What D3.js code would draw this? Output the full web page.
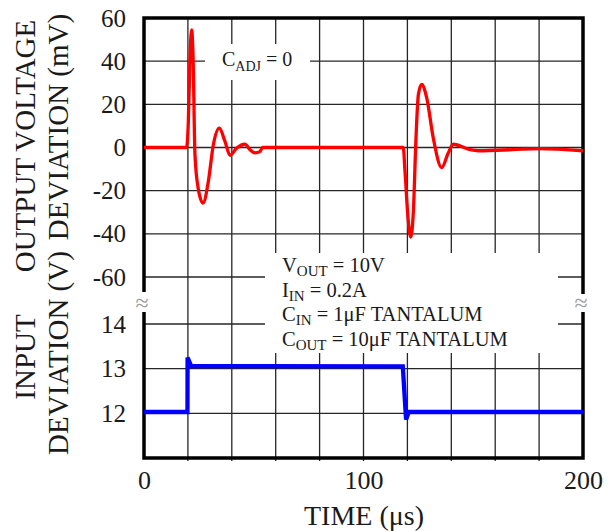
<!DOCTYPE html>
<html>
<head>
<meta charset="utf-8">
<script src="https://cdn.jsdelivr.net/npm/d3@7"></script>
<style>
  body { margin: 0; background: #fff; }
  text { font-family: "Liberation Serif", "Times New Roman", serif; fill: #1a1a1a; }
</style>
</head>
<body>
<svg width="610" height="531"></svg>
<script>
// time axis (us)
var timeTicks = [0, 100, 200];
var timeGrid = [20, 40, 60, 80, 100, 120, 140, 160, 180];

// output voltage deviation (mV), top panel
var outTicks = [60, 40, 20, 0, -20, -40, -60];
var outTime = [0, 19.4, 20.2, 21, 21.7, 22.4, 23.2, 24.7, 26.9, 29.3, 31.6, 34.3, 36.9, 39.2, 42.2, 46, 48.3, 50.6, 52.8, 54,
               118.1, 118.9, 120.4, 121.5, 122.7, 123.9, 125, 126.5, 128.8, 131.8, 135.6, 138.6, 140.9, 148.5, 152.3, 168, 180, 200];
var outMv   = [0, 0, 12, 43, 54.5, 40, -3, -19, -25.8, -15.8, 1.3, 9, 2.8, -3.6, -0.3, 1.5, -1, -2.5, -1.9, 0,
               0, -11, -34, -41.5, -30, 4, 24.5, 29.2, 23, 4.3, -9.3, -2.6, 1.5, -1, -1.5, -1, -0.5, -1.5];

// input voltage (V), bottom panel
var inTicks = [14, 13, 12];
var inTime = [0, 19.8, 19.85, 21.5, 117.9, 119.4, 120.6, 200];
var inV    = [12.03, 12.03, 13.25, 13.06, 13.05, 11.86, 12.03, 12.03];

var svg = d3.select("svg");
var pLeft = 144, pRight = 583, pTop = 18, pBottom = 458;

var x = d3.scaleLinear().domain([0, 200]).range([pLeft, pRight]);
var yOut = d3.scaleLinear().domain([-60, 60]).range([277, pTop]);
var yIn = d3.scaleLinear().domain([11, 14]).range([pBottom, 324]);

//grid lines
var grid = svg.append("g").attr("stroke", "#262626").attr("stroke-width", 1.3);
grid.selectAll("line.v").data(timeGrid).enter().append("line")
    .attr("x1", d => x(d)).attr("x2", d => x(d))
    .attr("y1", pTop).attr("y2", pBottom + 3);
grid.selectAll("line.ho").data(outTicks.filter(d => d < 60)).enter().append("line")
    .attr("x1", pLeft).attr("x2", pRight)
    .attr("y1", d => yOut(d)).attr("y2", d => yOut(d));
grid.selectAll("line.hi").data(inTicks).enter().append("line")
    .attr("x1", pLeft).attr("x2", pRight)
    .attr("y1", d => yIn(d)).attr("y2", d => yIn(d));

// white boxes behind the notes
svg.append("rect").attr("x", 205).attr("y", 44).attr("width", 105).attr("height", 36).attr("fill", "#fff");
svg.append("rect").attr("x", 265).attr("y", 253).attr("width", 293).attr("height", 100).attr("fill", "#fff");

// frame, broken on both sides
var frame = svg.append("g").attr("stroke", "#000").attr("stroke-width", 3.5).attr("fill", "none");
frame.append("path").attr("d",
    "M" + pLeft + "," + 292 + "V" + pTop + "H" + pRight + "V" + 294);
frame.append("path").attr("d",
    "M" + pLeft + "," + 312 + "V" + pBottom + "H" + pRight + "V" + 312);

svg.selectAll("text.brk").data([pLeft, pRight]).enter().append("text")
    .attr("x", d => d - 2).attr("y", 311)
    .attr("text-anchor", "middle")
    .style("font-size", "24px").style("fill", "#999")
    .text("\u2248");

// curves
var outLine = d3.line()
    .x((d, i) => x(outTime[i]))
    .y(d => yOut(d))
    .curve(d3.curveMonotoneX);
svg.append("path").datum(outMv)
    .attr("d", outLine)
    .attr("fill", "none").attr("stroke", "#ff0000").attr("stroke-width", 3.3);

var inLine = d3.line()
    .x((d, i) => x(inTime[i]))
    .y(d => yIn(d));
svg.append("path").datum(inV)
    .attr("d", inLine)
    .attr("fill", "none").attr("stroke", "#0000ff").attr("stroke-width", 4.3);

// axes (labels only)
var plain = d => String(d);
function styleAxis(g, size) {
    g.select(".domain").remove();
    g.selectAll("line").remove();
    g.selectAll("text").style("font-size", size).attr("fill", "#1a1a1a")
        .style("font-family", "'Liberation Serif', 'Times New Roman', serif");
}
svg.append("g").attr("transform", "translate(" + pLeft + ",0)")
    .call(d3.axisLeft(yOut).tickValues(outTicks).tickFormat(plain).tickSize(0).tickPadding(18))
    .call(g => styleAxis(g, "25px"));
svg.append("g").attr("transform", "translate(" + pLeft + ",0)")
    .call(d3.axisLeft(yIn).tickValues(inTicks).tickFormat(plain).tickSize(0).tickPadding(18))
    .call(g => styleAxis(g, "25px"));
svg.append("g").attr("transform", "translate(0," + pBottom + ")")
    .call(d3.axisBottom(x).tickValues(timeTicks).tickFormat(plain).tickSize(0).tickPadding(13))
    .call(g => styleAxis(g, "26px"));

// axis titles
svg.append("text").attr("x", 364).attr("y", 525).attr("text-anchor", "middle")
    .style("font-size", "28px").text("TIME (\u03bcs)");

function vtitle(txt, bx, cy) {
    svg.append("text")
        .attr("transform", "translate(" + bx + "," + cy + ") rotate(-90)")
        .attr("text-anchor", "middle")
        .style("font-size", "29px")
        .text(txt);
}
vtitle("OUTPUT VOLTAGE", 35, 146);
vtitle("DEVIATION (mV)", 68, 127);
vtitle("INPUT", 35, 357);
vtitle("DEVIATION (V)", 68, 353);

// notes
var cadj = svg.append("text").attr("x", 222).attr("y", 66).style("font-size", "20px");
cadj.append("tspan").text("C");
cadj.append("tspan").attr("dy", 5).style("font-size", "14px").text("ADJ");
cadj.append("tspan").attr("dy", -5).text(" = 0");

var notes = [
    ["V", "OUT", " = 10V"],
    ["I", "IN", " = 0.2A"],
    ["C", "IN", " = 1\u03bcF TANTALUM"],
    ["C", "OUT", " = 10\u03bcF TANTALUM"]
];
notes.forEach(function(n, i) {
    var t = svg.append("text").attr("x", 282).attr("y", 272 + i * 24.5).style("font-size", "20.5px");
    t.append("tspan").text(n[0]);
    t.append("tspan").attr("dy", 4).style("font-size", "15px").text(n[1]);
    t.append("tspan").attr("dy", -4).text(n[2]);
});
</script>
</body>
</html>
